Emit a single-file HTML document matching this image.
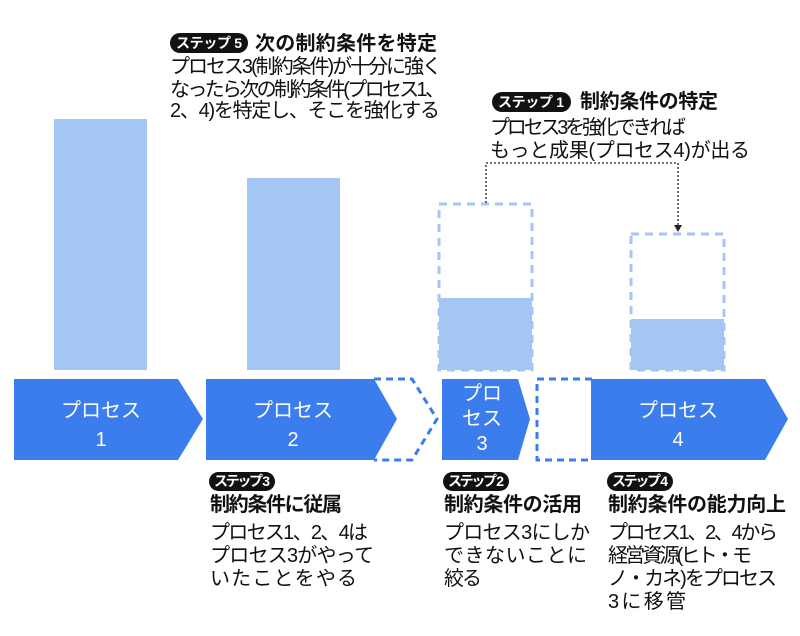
<!DOCTYPE html>
<html><head><meta charset="utf-8"><style>
html,body{margin:0;padding:0;background:#fff;}
svg{display:block;font-family:"Liberation Sans","Noto Sans CJK JP",sans-serif;}
.t{font-size:20px;fill:#111;}
.b{font-size:20px;font-weight:bold;fill:#111;}
.w{font-size:20px;fill:#fff;}
.bd{font-size:14px;font-weight:bold;fill:#fff;}
</style></head><body>
<svg width="800" height="636" viewBox="0 0 800 636">
<rect x="54" y="119" width="93" height="251" fill="#a4c6f4"/>
<rect x="247" y="178" width="93" height="192" fill="#a4c6f4"/>
<rect x="439" y="204" width="93" height="166" fill="none" stroke="#a4c6f4" stroke-width="3" stroke-dasharray="8,6"/>
<rect x="439" y="298" width="93" height="72" fill="#a4c6f4"/>
<rect x="631" y="234" width="93" height="136" fill="none" stroke="#a4c6f4" stroke-width="3" stroke-dasharray="8,6"/>
<rect x="631" y="319" width="93" height="51" fill="#a4c6f4"/>
<path d="M486,203 V163 H678 V226" fill="none" stroke="#222" stroke-width="1.3" stroke-dasharray="2,2"/>
<polygon points="674,225 682,225 678,232" fill="#222"/>
<polygon points="14,379 178,379 203,419 178,460 14,460" fill="#3b7ded"/>
<polygon points="206,379 374,379 397,419 374,460 206,460" fill="#3b7ded"/>
<path d="M374,379 H412 L437,419 L412,460 H374" fill="none" stroke="#3b7ded" stroke-width="3" stroke-dasharray="7,5"/>
<polygon points="442,379 518,379 530,419 518,460 442,460" fill="#3b7ded"/>
<path d="M592,379 H537 V460 H592" fill="none" stroke="#3b7ded" stroke-width="3" stroke-dasharray="7,5"/>
<polygon points="591,379 765,379 788,419 765,460 591,460" fill="#3b7ded"/>
<text class="w" x="101" y="417" text-anchor="middle">プロセス</text>
<text class="w" x="101" y="446" text-anchor="middle">1</text>
<text class="w" x="293" y="417" text-anchor="middle">プロセス</text>
<text class="w" x="293" y="446" text-anchor="middle">2</text>
<text class="w" x="482" y="400" text-anchor="middle">プロ</text>
<text class="w" x="482" y="425" text-anchor="middle">セス</text>
<text class="w" x="482" y="450" text-anchor="middle">3</text>
<text class="w" x="678" y="417" text-anchor="middle">プロセス</text>
<text class="w" x="678" y="446" text-anchor="middle">4</text>
<rect x="170" y="33" width="78" height="20" rx="10" fill="#111"/>
<text class="bd" x="176" y="48" textLength="66">ステップ 5</text>
<text class="b" x="255" y="50" textLength="182">次の制約条件を特定</text>
<text class="t" x="170" y="73" textLength="272">プロセス3(制約条件)が十分に強く</text>
<text class="t" x="170" y="96" textLength="275">なったら次の制約条件(プロセス1、</text>
<text class="t" x="170" y="117" textLength="270">2、4)を特定し、そこを強化する</text>
<rect x="492" y="92" width="79" height="20" rx="10" fill="#111"/>
<text class="bd" x="498" y="107" textLength="66">ステップ 1</text>
<text class="b" x="580" y="108" textLength="138">制約条件の特定</text>
<text class="t" x="490" y="134" textLength="196">プロセス3を強化できれば</text>
<text class="t" x="490" y="157" textLength="260">もっと成果(プロセス4)が出る</text>
<rect x="209" y="472" width="66" height="19" rx="9.5" fill="#111"/>
<text class="bd" x="214" y="486" textLength="56">ステップ 3</text>
<text class="b" x="210" y="511" textLength="132">制約条件に従属</text>
<text class="t" x="210" y="539" textLength="158">プロセス1、2、4は</text>
<text class="t" x="210" y="562" textLength="164">プロセス3がやって</text>
<text class="t" x="210" y="585" textLength="147">いたことをやる</text>
<rect x="443" y="472" width="66" height="19" rx="9.5" fill="#111"/>
<text class="bd" x="448" y="486" textLength="56">ステップ 2</text>
<text class="b" x="444" y="511" textLength="138">制約条件の活用</text>
<text class="t" x="444" y="539" textLength="146">プロセス3にしか</text>
<text class="t" x="444" y="562" textLength="143">できないことに</text>
<text class="t" x="444" y="585" textLength="38">絞る</text>
<rect x="607" y="472" width="66" height="19" rx="9.5" fill="#111"/>
<text class="bd" x="612" y="486" textLength="56">ステップ 4</text>
<text class="b" x="608" y="511" textLength="178">制約条件の能力向上</text>
<text class="t" x="608" y="539" textLength="170">プロセス1、2、4から</text>
<text class="t" x="608" y="562" textLength="144">経営資源(ヒト・モ</text>
<text class="t" x="608" y="585" textLength="169">ノ・カネ)をプロセス</text>
<text class="t" x="608" y="608" textLength="78">3に移管</text>
</svg>
</body></html>
